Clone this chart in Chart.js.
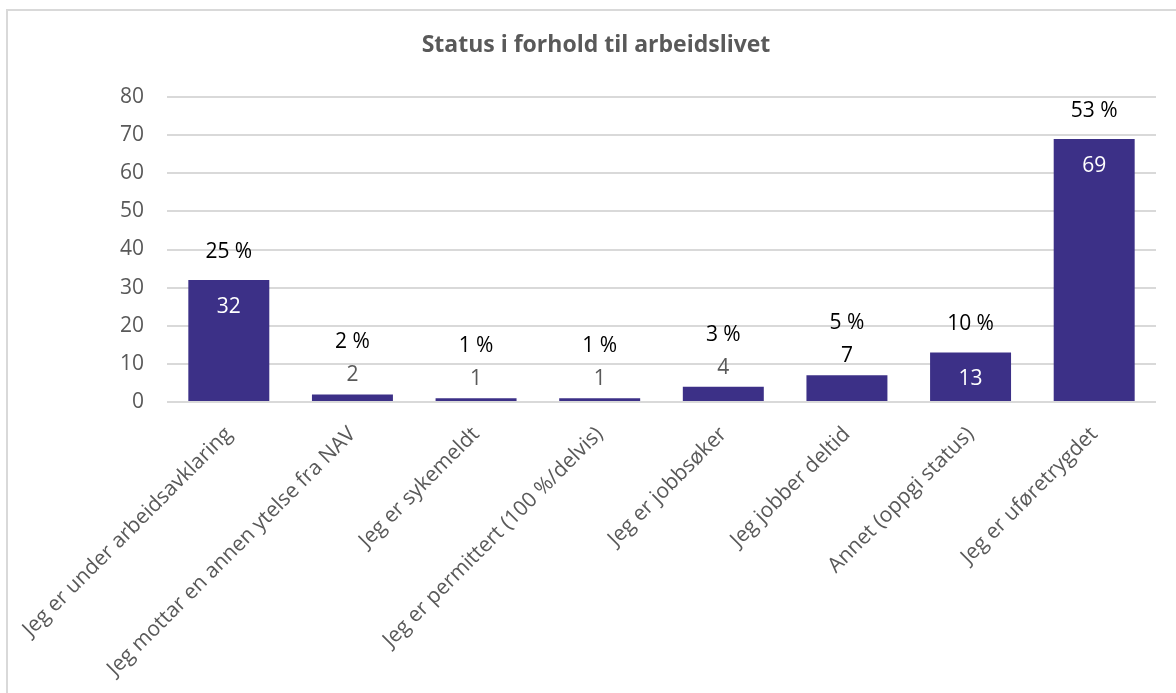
<!DOCTYPE html>
<html lang="no">
<head>
<meta charset="utf-8">
<title>Status i forhold til arbeidslivet</title>
<script src="https://cdn.jsdelivr.net/npm/chart.js@4.4.1/dist/chart.umd.min.js"></script>
<style>
  html, body { margin: 0; padding: 0; background: #fff; overflow: hidden; }
  #wrap { position: relative; width: 1176px; height: 693px; }
  #frame { position: absolute; left: 6px; top: 9px; width: 1220px; height: 740px; border: 2px solid #d9d9d9; box-sizing: border-box; }
  #chart { position: absolute; left: 0; top: 0; }
</style>
</head>
<body>
<div id="wrap">
  <div id="frame"></div>
  <canvas id="chart" width="1176" height="693"></canvas>
</div>
<script>
// ── data ──────────────────────────────────────────────────────────────────────
const categories = [
  'Jeg er under arbeidsavklaring',
  'Jeg mottar en annen ytelse fra NAV',
  'Jeg er sykemeldt',
  'Jeg er permittert (100 %/delvis)',
  'Jeg er jobbsøker',
  'Jeg jobber deltid',
  'Annet (oppgi status)',
  'Jeg er uføretrygdet'
];
const counts   = [32, 2, 1, 1, 4, 7, 13, 69];
const percents = [25, 2, 1, 1, 3, 5, 10, 53];
const yTicks   = [0, 10, 20, 30, 40, 50, 60, 70, 80];

const BAR  = '#3c3087';
const GREY = '#595959';
const FONT = "'Open Sans', 'Noto Sans', sans-serif";

// count inside the bar (white) when it fits, otherwise just above it; percent on top
const barLabels = {
  id: 'barLabels',
  afterDatasetsDraw(chart) {
    const ctx = chart.ctx;
    const bars = chart.getDatasetMeta(0).data;
    ctx.save();
    ctx.font = `21px ${FONT}`;
    ctx.textAlign = 'center';
    ctx.textBaseline = 'middle';
    bars.forEach((bar, i) => {
      const inside = counts[i] >= 10;
      ctx.fillStyle = inside ? '#ffffff' : (counts[i] === 7 ? '#000000' : GREY);
      ctx.fillText(String(counts[i]), bar.x, inside ? bar.y + 27 : bar.y - 19);
      ctx.fillStyle = '#000000';
      ctx.fillText(`${percents[i]} %`, bar.x, inside ? bar.y - 28 : bar.y - 52);
    });
    ctx.restore();
  }
};

new Chart(document.getElementById('chart'), {
  type: 'bar',
  data: {
    labels: categories,
    datasets: [{
      data: counts,
      backgroundColor: BAR,
      borderWidth: 0,
      barPercentage: 0.655,
      categoryPercentage: 1
    }]
  },
  options: {
    responsive: false,
    animation: false,
    events: [],
    layout: { padding: { top: 24, right: 20, left: 36, bottom: 0 } },
    plugins: {
      legend: { display: false },
      tooltip: { enabled: false },
      title: {
        display: true,
        text: 'Status i forhold til arbeidslivet',
        color: GREY,
        font: { family: FONT, size: 23, weight: 'bold' },
        padding: { top: 8, bottom: 37.4 }
      }
    },
    scales: {
      x: {
        grid: { display: false },
        border: { display: false },
        ticks: {
          color: GREY,
          font: { family: FONT, size: 21 },
          minRotation: 45,
          maxRotation: 45,
          autoSkip: false,
          padding: 12
        },
        afterFit(scale) { scale.height = 291; }
      },
      y: {
        min: 0,
        max: 80,
        afterBuildTicks(scale) { scale.ticks = yTicks.map(v => ({ value: v })); },
        grid: { color: '#d9d9d9', lineWidth: 2, drawTicks: false },
        border: { display: false },
        ticks: {
          color: GREY,
          font: { family: FONT, size: 21 },
          padding: 23
        },
        afterFit(scale) { scale.width = 131; }
      }
    }
  },
  plugins: [barLabels]
});
</script>
</body>
</html>
